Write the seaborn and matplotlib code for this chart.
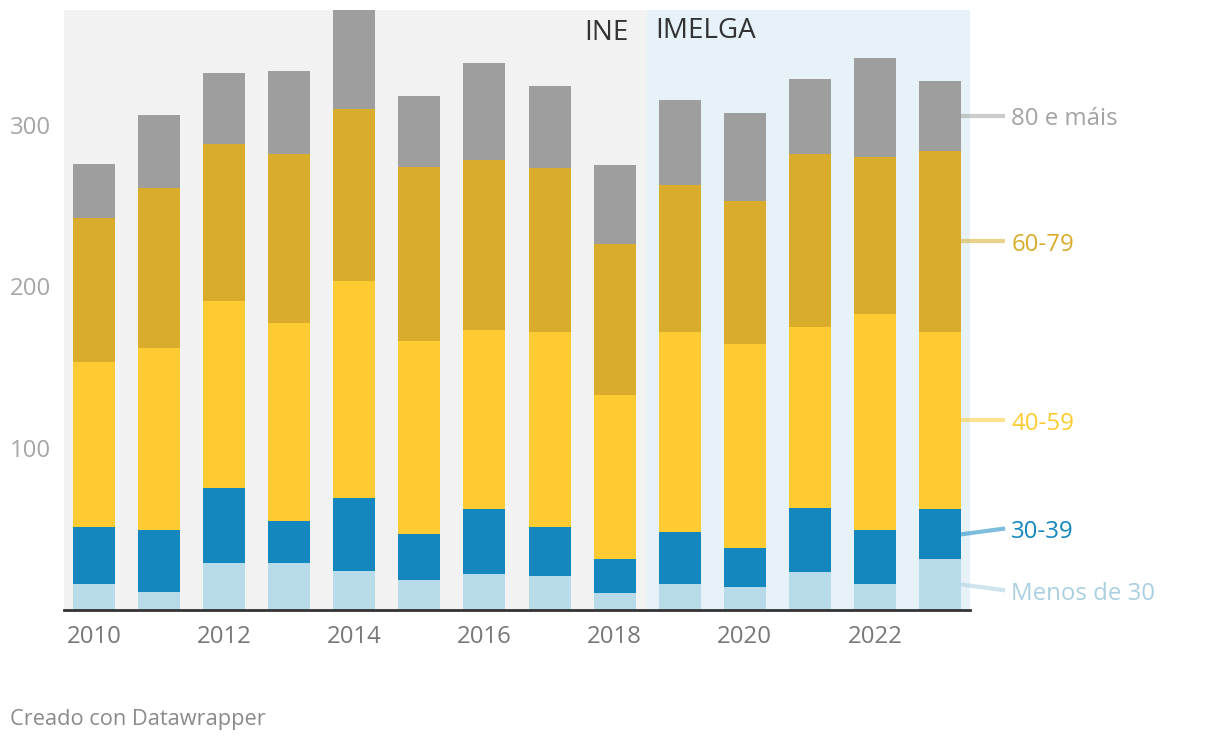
import numpy as np
import pandas as pd
import matplotlib
matplotlib.use("Agg")
import matplotlib.pyplot as plt
import seaborn as sns

# data
years = [2010, 2011, 2012, 2013, 2014, 2015, 2016, 2017, 2018, 2019, 2020, 2021, 2022, 2023]
groups = ["Menos de 30", "30-39", "40-59", "60-79", "80 e máis"]
menos_30 = [16, 11, 29, 29, 24, 18, 22, 21, 10, 16, 14, 23, 16, 31]
de_30_39 = [35, 38, 46, 26, 45, 29, 40, 30, 21, 32, 24, 40, 33, 31]
de_40_59 = [102, 113, 116, 122, 134, 119, 111, 121, 102, 124, 126, 112, 134, 110]
de_60_79 = [89, 99, 97, 105, 107, 108, 105, 101, 93, 91, 89, 107, 97, 112]
de_80 = [34, 45, 44, 51, 75, 44, 60, 51, 49, 52, 54, 46, 61, 43]
sources = ["INE", "IMELGA"]
first_imelga_year = 2019
xtick_years = [2010, 2012, 2014, 2016, 2018, 2020, 2022]
yticks = [100, 200, 300]

colors = ["#b7dbe9", "#1487bf", "#ffcb32", "#d9ac2b", "#9e9e9e"]
label_colors = ["#a9cfe0", "#1487bf", "#ffcb32", "#d9ac2b", "#a3a3a3"]

sns.set_style("white")
plt.rcParams["font.family"] = ["Open Sans", "DejaVu Sans"]

values = np.array([menos_30, de_30_39, de_40_59, de_60_79, de_80], dtype=float)
cum = values.cumsum(axis=0)

fig = plt.figure(figsize=(12.2, 7.44), dpi=100)
ax = fig.add_axes([64 / 1220, 1 - 609.5 / 744, 906 / 1220, 599.5 / 744])

n = len(years)
xlo, xhi = -0.46, n - 1 + 0.46
split = years.index(first_imelga_year) - 0.5
ax.axvspan(xlo, split, color="#f2f2f2", zorder=0, lw=0)
ax.axvspan(split, xhi, color="#e6f1f8", zorder=0, lw=0)

# stacked bars: draw cumulative totals from the top layer down
for i in range(len(groups) - 1, -1, -1):
    df = pd.DataFrame({"year": years, "total": cum[i]})
    sns.barplot(data=df, x="year", y="total", color=colors[i], saturation=1,
                width=0.646, linewidth=0, ax=ax, zorder=2)

ax.set_xlim(xlo, xhi)
ax.set_ylim(0, 371)
ax.set_xlabel("")
ax.set_ylabel("")

ax.set_xticks([years.index(y) for y in xtick_years])
ax.set_xticklabels([str(y) for y in xtick_years], fontsize=17.3, color="#777777")
ax.set_yticks(yticks)
ax.set_yticklabels([str(v) for v in yticks], fontsize=17.3, color="#a6a6a6")
ax.tick_params(axis="both", length=0)
ax.tick_params(axis="x", pad=11)
ax.tick_params(axis="y", pad=9)

for s in ["top", "left", "right"]:
    ax.spines[s].set_visible(False)
ax.spines["bottom"].set_color("#333333")
ax.spines["bottom"].set_linewidth(2)
ax.spines["bottom"].set_zorder(5)

# source labels
ax.text(split - 0.28, 356.5, sources[0], ha="right", va="center", fontsize=20, color="#333333")
ax.text(split + 0.12, 358, sources[1], ha="left", va="center", fontsize=20, color="#333333")

# direct labels on the right, from the last bar's segments
last = n - 1
bottoms = np.concatenate([[0], cum[:-1, last]])
mids = (bottoms + cum[:, last]) / 2
label_y = mids.copy()
min_gap = 38.3
for i in range(len(label_y) - 1):
    gap = label_y[i + 1] - label_y[i]
    if gap < min_gap:
        shift = (min_gap - gap) / 2
        label_y[i] -= shift
        label_y[i + 1] += shift

x_start = last + 0.323
x_end = last + 1.0
for i, g in enumerate(groups):
    ax.plot([x_start, x_end], [mids[i], label_y[i]], color=label_colors[i], alpha=0.55,
            lw=3, clip_on=False, zorder=3, solid_capstyle="butt")
    ax.annotate(g, (x_end, label_y[i]), xytext=(4.5, -2.5), textcoords="offset points",
                ha="left", va="center", fontsize=17.3, color=label_colors[i],
                annotation_clip=False)

fig.text(10 / 1220, 1 - 720 / 744, "Creado con Datawrapper", ha="left", va="center",
         fontsize=15.7, color="#8a8a8a")

fig.savefig("out.png", dpi=100)
